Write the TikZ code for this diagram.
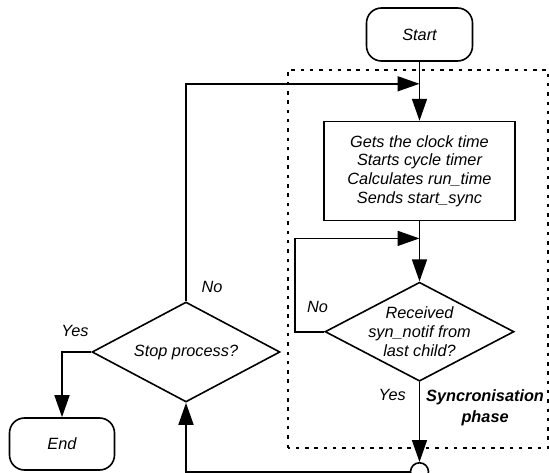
\documentclass[tikz,border=0pt]{standalone}
\usepackage{fontspec}
\setmainfont{Liberation Sans}
\usetikzlibrary{positioning,shapes.geometric,arrows.meta}

\tikzstyle{txt}=[font=\fontsize{16.3}{18.7}\selectfont\itshape, align=center]
\tikzstyle{lbl}=[txt, inner sep=0pt]
\tikzstyle{layer}=[draw, line width=1.6pt, txt]
\tikzstyle{terminal}=[layer, rectangle, rounded corners=15pt, minimum width=106pt, minimum height=53pt]
\tikzstyle{process}=[layer, rectangle, minimum width=191pt, minimum height=99pt]
\tikzstyle{decision}=[layer, diamond, aspect=1.9, inner sep=-10pt, minimum width=189pt, minimum height=99pt]
\tikzstyle{joint}=[draw, circle, line width=1.6pt, minimum size=18pt, inner sep=0pt]
\tikzstyle{flow}=[line width=1.6pt, -{Triangle[length=22pt,width=15pt]}]
\tikzstyle{phase}=[line width=2.2pt, dash pattern=on 3.5pt off 5.8pt]

\begin{document}
\begin{tikzpicture}[x=1pt, y=1pt, node distance=59pt and 0pt]
      \useasboundingbox (0,0) rectangle (549,472);

      %%%%%%%%%%%%%%%%%%%%%%%%%%%%%%%%%%%%%%%%%%%%%%%%%
      % SYNC PHASE
      %%%%%%%%%%%%%%%%%%%%%%%%%%%%%%%%%%%%%%%%%%%%%%%%%
      \draw[phase] (288,24) rectangle (548,402);

      % main column
      \node[terminal] at (419.5,437.5) (START) {Start};
      \node[process, below= of START] (PROC) {Gets the clock time\\Starts cycle timer\\Calculates run\_time\\Sends start\_sync};
      \node[decision, below=60pt of PROC] (RECV) {Received\\syn\_notif from\\last child?};
      \node[joint, below=80pt of RECV] (JOIN) {};

      % stop branch
      \node[decision, minimum width=188pt, minimum height=100pt] at (186,120) (STOP) {Stop process?};
      \node[terminal, minimum width=105pt, minimum height=52pt] at (62,28) (END) {End};

      % junctions
      \coordinate[below=22pt of START.south] (J1);
      \coordinate[below=17pt of PROC.south] (J2);
      \coordinate[left=29pt of RECV.west] (K2);

      %%%%%%%%%%%%%%%%%%%%%%%%%%%%%%%%%%%%%%%%%%%%%%%%%
      % FLOW
      %%%%%%%%%%%%%%%%%%%%%%%%%%%%%%%%%%%%%%%%%%%%%%%%%
      \draw[flow] (START) -- (PROC);
      \draw[flow] (STOP.north) |- (J1);
      \draw[flow] (PROC) -- (RECV);
      \draw[flow] (RECV.west) -- (K2) |- (J2);
      \draw[flow] (RECV) -- (JOIN);
      \draw[flow] (JOIN.west) -| (STOP.south);
      \draw[flow] (STOP.west) -| (END.north);

      % labels
      \node[lbl, above right=19pt and 11.7pt of K2, anchor=south west] (NO1) {No};
      \node[lbl, below left=7pt and 13.5pt of RECV.south] (YES1) {Yes};
      \node[lbl, below right=7pt and 6.5pt of RECV.south, font=\fontsize{16.3}{21.5}\selectfont\bfseries\itshape] (SYNC) {Syncronisation\\phase};
      \node[lbl, above right=8pt and 15.5pt of STOP.north] (NO2) {No};
      \node[lbl, above left=15.5pt and 2.5pt of STOP.west] (YES2) {Yes};
\end{tikzpicture}
\end{document}
